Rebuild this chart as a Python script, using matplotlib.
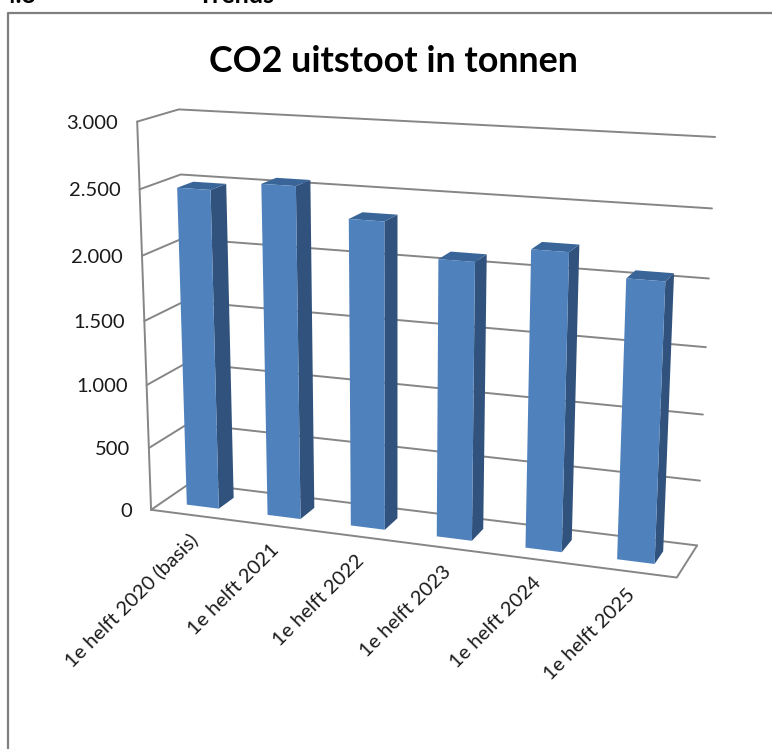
import numpy as np
import matplotlib
matplotlib.use('Agg')
import matplotlib.pyplot as plt
from matplotlib.lines import Line2D
from mpl_toolkits.mplot3d import proj3d

# data
categories = ['1e helft 2020 (basis)', '1e helft 2021', '1e helft 2022',
              '1e helft 2023', '1e helft 2024', '1e helft 2025']
co2_ton = [2490, 2560, 2345, 2100, 2220, 2065]
y_ticks = [0, 500, 1000, 1500, 2000, 2500, 3000]
y_tick_labels = ['0', '500', '1.000', '1.500', '2.000', '2.500', '3.000']

W, H = 772, 749
plt.rcParams['font.family'] = ['Lato', 'DejaVu Sans']

fig = plt.figure(figsize=(W / 100, H / 100), dpi=100, facecolor='white')
ax = fig.add_axes([0, 0, 1, 1], projection='3d', computed_zorder=False)
ax.set_axis_off()
ax.apply_aspect()

# the box corners as they sit in the picture (x, depth, value) -> pixel
corners = [((0, 0, 0), (152, 509)), ((0, 0, 3000), (136, 122)),
           ((0, 1, 3000), (180, 109)), ((0, 1, 0), (189, 484)),
           ((6, 1, 3000), (715, 137)), ((6, 1, 0), (697, 545)),
           ((6, 0, 0), (677, 578))]


def fit_camera(pairs):
    rows = []
    for (x, d, v), (px, py) in pairs:
        p = [x / 6, d, v / 3000, 1]
        u, t = px / 1000, py / 1000
        rows.append(p + [0, 0, 0, 0] + [-u * c for c in p])
        rows.append([0, 0, 0, 0] + p + [-t * c for c in p])
    cam = np.linalg.svd(np.array(rows))[2][-1].reshape(3, 4)
    to_disp = np.array([[1000, 0, 0], [0, -1000, H], [0, 0, 1]])
    cam = ax.transData.inverted().get_matrix() @ to_disp @ cam
    cam = cam / (cam[2] @ [0.5, 0.5, 0.5, 1])  # w about 1 in the middle of the box
    # Line3D drops points with depth > 0, so keep the depth row negative
    m = np.vstack([cam[0], cam[1], [0, 0.1, 0, -0.5], cam[2]])
    return m @ np.diag([1 / 6, 1, 1 / 3000, 1])


camera = fit_camera(corners)
ax.get_proj = lambda: camera
ax.M = camera

grid_kw = dict(color='#868686', lw=1.4, zorder=1, solid_capstyle='round')

# walls
for v in y_ticks:
    ax.plot([0, 0, 6], [0, 1, 1], [v, v, v], **grid_kw)
ax.plot([0, 0], [0, 0], [0, 3000], **grid_kw)
ax.plot([0, 6, 6], [0, 0, 1], [0, 0, 0], **grid_kw)

# bars
front = '#4F81BD'
top = '#3A6599'
side = '#30527C'
hidden = (0, 0, 0, 0)
n = len(co2_ton)
xpos = np.arange(n) + 0.3
face_colors = [hidden, top, front, hidden, hidden, side] * n
ax.bar3d(xpos, np.full(n, 0.3), np.zeros(n), 0.4, 0.4, co2_ton,
         color=face_colors, shade=False, edgecolor='none', zorder=2)


def label_at(x, d, v, text, dx=0, dy=0, **kw):
    x2, y2, _ = proj3d.proj_transform(x, d, v, camera)
    ax.annotate(text, xy=(x2, y2), xytext=(dx, dy), textcoords='offset pixels',
                annotation_clip=False, color='#1A1A1A', **kw)


for v, lab in zip(y_ticks, y_tick_labels):
    label_at(0, 0, v, lab, dx=-19, dy=-1.5, ha='right', va='center', fontsize=14.5)

for i, lab in enumerate(categories):
    label_at(i + 0.5, 0, 0, lab, dx=-3, dy=-15, ha='right', va='top',
             rotation=45, rotation_mode='anchor', fontsize=14.5)

fig.text(393 / W, 1 - 61 / H, 'CO2 uitstoot in tonnen', ha='center', va='center',
         fontsize=25.8, fontweight='bold', color='black')

# page behind the chart: section heading and chart border
fig.text(2 / W, 1 - 7 / H, '4.3', ha='left', va='bottom', fontsize=18, fontweight='bold')
fig.text(198 / W, 1 - 7 / H, 'Trends', ha='left', va='bottom', fontsize=18, fontweight='bold')
fig.add_artist(Line2D([8 / W, 8 / W, 1], [0, 1 - 13 / H, 1 - 13 / H], color='#7F7F7F', lw=1.6))

fig.savefig('out.png', dpi=100)
